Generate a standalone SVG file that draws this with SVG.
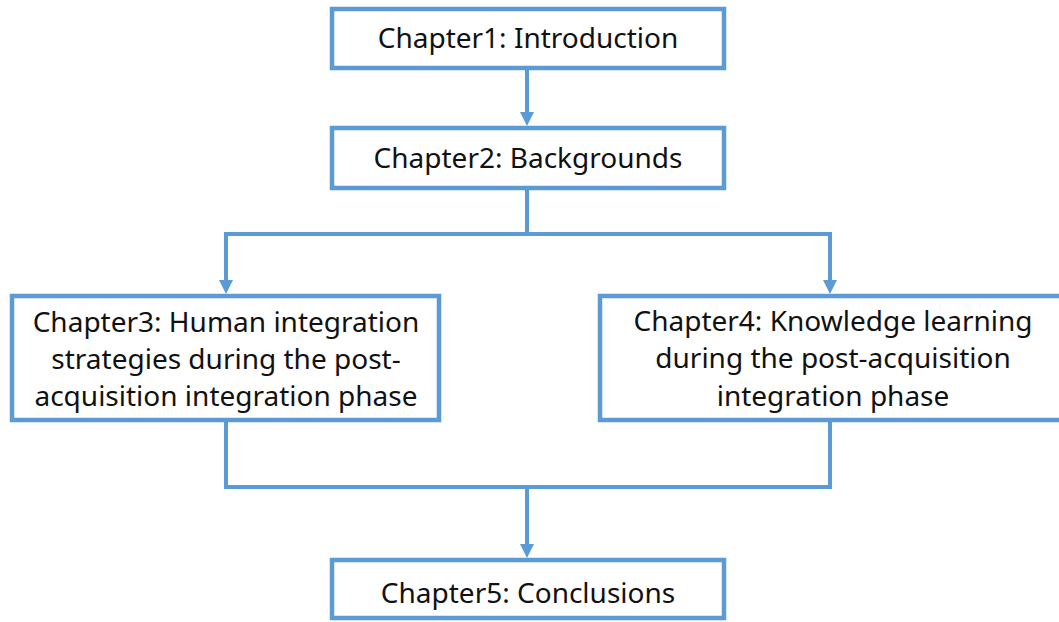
<svg xmlns="http://www.w3.org/2000/svg" width="1059" height="622" viewBox="0 0 1059 622">
<defs>
<style>
.box{fill:#fff;stroke:#5B9BD5;stroke-width:4.5}
.ln{fill:none;stroke:#5B9BD5;stroke-width:4}
.t{font-family:"Noto Sans","DejaVu Sans",sans-serif;font-size:28px;fill:#111;text-anchor:middle}
</style>
<marker id="ah" viewBox="0 0 14 14" refX="8" refY="7" markerWidth="14" markerHeight="14" markerUnits="userSpaceOnUse" orient="auto">
<path d="M0,0 L14,7 L0,14 Z" fill="#5B9BD5"/>
</marker>
</defs>
<rect width="1059" height="622" fill="#fff"/>
<g id="connectors">
<path class="ln" d="M527,70 V120" marker-end="url(#ah)"/>
<path class="ln" d="M527,190 V234"/>
<path class="ln" d="M527,234 H226 V288" marker-end="url(#ah)"/>
<path class="ln" d="M527,234 H830 V288" marker-end="url(#ah)"/>
<path class="ln" d="M226,422 V487 H527"/>
<path class="ln" d="M830,422 V487 H527"/>
<path class="ln" d="M527,487 V552" marker-end="url(#ah)"/>
</g>
<g id="ch1">
<rect class="box" x="332" y="9" width="392" height="59"/>
<text class="t" x="528" y="48">Chapter1: Introduction</text>
</g>
<g id="ch2">
<rect class="box" x="332" y="128" width="392" height="60"/>
<text class="t" x="528" y="168">Chapter2: Backgrounds</text>
</g>
<g id="ch3">
<rect class="box" x="12" y="296" width="427" height="124"/>
<text class="t" x="226" y="332">Chapter3: Human integration</text>
<text class="t" x="226" y="369">strategies during the post-</text>
<text class="t" x="226" y="406">acquisition integration phase</text>
</g>
<g id="ch4">
<rect class="box" x="600" y="296" width="470" height="124"/>
<text class="t" x="833" y="331">Chapter4: Knowledge learning</text>
<text class="t" x="833" y="368">during the post-acquisition</text>
<text class="t" x="833" y="406">integration phase</text>
</g>
<g id="ch5">
<rect class="box" x="332" y="560" width="392" height="58"/>
<text class="t" x="528" y="603">Chapter5: Conclusions</text>
</g>
</svg>
